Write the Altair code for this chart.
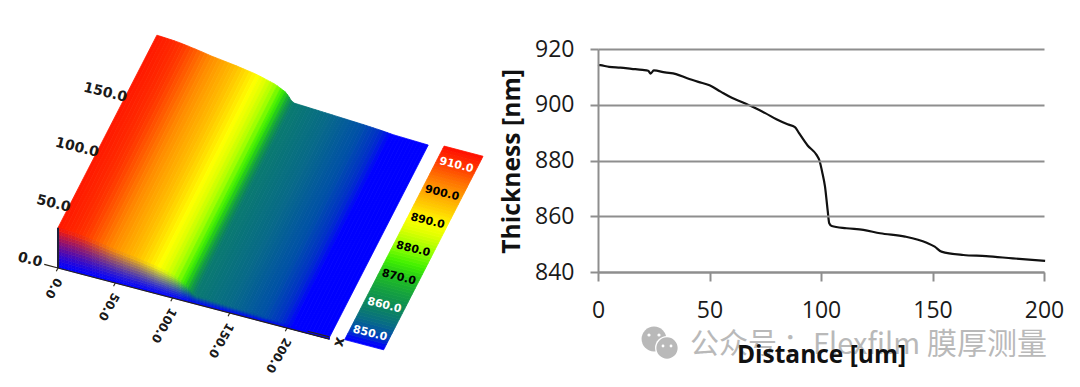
import altair as alt
import pandas as pd
import numpy as np

# ---------- Right chart: line profile ----------
DIST = [0, 1, 5, 10, 15, 20, 22.5, 23.6, 25, 30, 35, 40, 45, 50, 55, 60, 65, 70, 75, 80, 85, 88.3, 90, 94, 98, 99.3, 100.5,
        101.8, 103, 103.7, 104.8, 111.4, 119, 126.5, 137.7, 147.4, 151, 154, 163.8, 174, 186, 200.5]
THICK = [914.3, 914.2, 913.6, 913.3, 912.9, 912.5, 912.2, 911.2, 912.3, 911.6, 911.0, 909.5, 908.2, 907, 904.7, 902.5, 900.8, 899, 897, 894.8, 893, 892, 890,
         885.4, 882, 880, 876, 870.6, 862, 857.5, 856.5, 855.7, 855.1, 853.9, 852.7, 850.5, 849.1, 847.3, 846.1, 845.7, 844.9, 844]
X_TICKS = [0, 50, 100, 150, 200]
Y_TICKS = [840, 860, 880, 900, 920]

# ---------- Left chart: 3D surface ----------
SURF_U = [0, 3, 6, 9, 12, 15, 18, 21, 24, 27, 30, 33, 36, 39, 42, 45, 48, 51, 54, 57, 60, 63, 66, 69, 72, 75, 78, 81, 84, 87, 90,
          93, 96, 99, 102, 105, 108, 110, 112, 114, 115.5, 117, 118.5, 120, 123, 126, 129, 132, 135, 138, 141, 144, 147, 150, 153, 156, 159, 162,
          165, 168, 171, 174, 177, 180, 183, 186, 189, 192, 195, 198, 201, 204, 207, 210, 213, 216, 219, 222, 225, 228, 231, 234, 237]
SURF_T = [914, 913.7, 913.3, 913, 912.6, 912.2, 911.6, 911, 910, 909.3, 908.2, 907.4, 906.4, 905.4, 904.4, 903.2, 902.2, 901.4, 900.6, 899.8, 899, 898.2, 897.4, 896.6, 895.6, 894.6, 893.6, 892.6, 891.6, 890.4, 889,
          887.4, 885.6, 884, 882.4, 880, 877, 875, 873, 869, 865.5, 861, 858.5, 857, 856.7, 856.4, 856.1, 855.8, 855.5, 855.2, 854.9, 854.6, 854.3, 854, 853.7, 853.4, 853.1, 852.8,
          852.5, 852.2, 851.9, 851.6, 851.3, 851, 850.6, 850.2, 849.8, 849.4, 849, 848.5, 847.9, 847.3, 846.8, 846.6, 846.4, 846.2, 846, 845.8, 845.6, 845.4, 845.2, 845, 844.8]
CMAP_T = [845, 847, 849, 851, 854, 857, 860, 865, 870, 875, 880, 886, 890, 895, 900, 905, 910, 914, 916]
CMAP_C = ["#0000ff", "#0000ff", "#0030c8", "#0050a8", "#086a88", "#0a7a70", "#0c8858", "#14a040", "#20c020", "#40f000", "#90ff00",
          "#e0ff00", "#ffff00", "#ffcc00", "#ffa000", "#ff7000", "#ff3800", "#ff1800", "#ff0000"]
BAR_TICKS = [850, 860, 870, 880, 890, 900, 910]
BAR_LABEL_COLORS = ["white", "white", "black", "black", "black", "black", "white"]
BAR_STEPS = list(range(846, 915))
U_TICKS = [0, 50, 100, 150, 200]
V_TICKS = [0, 50, 100, 150]
V_MAX = 175
U_MAX = 237


def proj(u, v, t=None):
    """oblique view -> panel pixels"""
    z = 0 if t is None else 0.56 * (t - 842)
    return [50 + 1.145 * u + 0.565 * v, 260 + 0.30 * u - 1.10 * v - z]


def hex2(c):
    return np.array([int(c[i:i + 2], 16) for i in (1, 3, 5)], float)


RGB = np.array([hex2(c) for c in CMAP_C])


def tcolor(t):
    return np.array([np.interp(t, CMAP_T, RGB[:, k]) for k in range(3)])


def tohex(a):
    return "#%02x%02x%02x" % tuple(int(round(x)) for x in a)


def poly(corners, color):
    return {"type": "Feature", "properties": {"c": color},
            "geometry": {"type": "Polygon", "coordinates": [corners + [corners[0]]]}}


def fc(features):
    return alt.Data(values={"type": "FeatureCollection", "features": features},
                    format=alt.DataFormat(type="json", property="features"))


surface, wall = [], []
BLUE = np.array([0, 0, 255.0])
LEVELS = 12
for i in range(len(SURF_U) - 1):
    u0, u1, t0, t1 = SURF_U[i], SURF_U[i + 1], SURF_T[i], SURF_T[i + 1]
    tm = (t0 + t1) / 2
    surface.append(poly([proj(u0, 0, t0), proj(u1, 0, t1), proj(u1, V_MAX, t1), proj(u0, V_MAX, t0)], tohex(tcolor(tm))))
    top = tcolor(tm)
    for k in range(LEVELS):
        f0, f1 = k / LEVELS, (k + 1) / LEVELS
        a0, b0 = proj(u0, 0, 842 + (t0 - 842) * f0), proj(u1, 0, 842 + (t1 - 842) * f0)
        a1, b1 = proj(u0, 0, 842 + (t0 - 842) * f1), proj(u1, 0, 842 + (t1 - 842) * f1)
        fm = ((k + 0.5) / LEVELS) ** 1.3
        wall.append(poly([a0, b0, b1, a1], tohex(BLUE + (top - BLUE) * fm)))

bar = []
for t in BAR_STEPS:
    v0 = 13 + (t - 850) * 2.55
    v1 = v0 + 2.55
    bar.append(poly([proj(249, v0), proj(283, v0), proj(283, v1), proj(249, v1)], tohex(tcolor(t + 0.5))))

lines = [
    {"type": "Feature", "properties": {}, "geometry": {"type": "LineString", "coordinates": [proj(0, 0), proj(U_MAX, 0)]}},
    {"type": "Feature", "properties": {}, "geometry": {"type": "LineString", "coordinates": [proj(218, 0, 846), proj(U_MAX, 0, 846)]}},
    {"type": "Feature", "properties": {}, "geometry": {"type": "LineString", "coordinates": [proj(0, 0), proj(-12, 0)]}},
]
for u in U_TICKS:
    lines.append({"type": "Feature", "properties": {}, "geometry": {"type": "LineString", "coordinates": [proj(u, 0), proj(u, -3)]}})
edge = [{"type": "Feature", "properties": {}, "geometry": {"type": "LineString", "coordinates": [proj(0, 0), proj(0, 0, 914)]}}]

P = dict(type="identity", scale=1, translate=[0, 0])

s_surface = alt.Chart(fc(surface)).mark_geoshape(strokeWidth=0.8).encode(
    fill=alt.Fill("properties.c:N", scale=None), stroke=alt.Stroke("properties.c:N", scale=None))
s_wall = alt.Chart(fc(wall)).mark_geoshape(strokeWidth=0.6).encode(
    fill=alt.Fill("properties.c:N", scale=None), stroke=alt.Stroke("properties.c:N", scale=None))
s_bar = alt.Chart(fc(bar)).mark_geoshape(strokeWidth=0.8).encode(
    fill=alt.Fill("properties.c:N", scale=None), stroke=alt.Stroke("properties.c:N", scale=None))
s_lines = alt.Chart(fc(lines)).mark_geoshape(filled=False, stroke="#2a2418", strokeWidth=1.1)
s_edge = alt.Chart(fc(edge)).mark_geoshape(filled=False, stroke="#20203a", strokeWidth=2)

FONT3D = "DejaVu Sans"


def pts(rows):
    return pd.DataFrame(rows, columns=["lon", "lat", "t", "c"])


u_lab = pts([[proj(u, 0)[0] + 1, proj(u, 0)[1] + 11, f"{u:.1f}", "#1a1a1a"] for u in U_TICKS])
v_lab = pts([[proj(0, v)[0] - 16, proj(0, v)[1] - 5, f"{v:.1f}", "#1a1a1a"] for v in V_TICKS])
b_lab = pts([[proj(266, 13 + (t - 850) * 2.55)[0], proj(266, 13 + (t - 850) * 2.55)[1], f"{t:.1f}", c]
             for t, c in zip(BAR_TICKS, BAR_LABEL_COLORS)])
x_lab = pts([[proj(U_MAX, 0)[0] + 11, proj(U_MAX, 0)[1] + 3, "x", "#1a1a1a"]])


def txt(df, size, angle, align, baseline="middle"):
    return alt.Chart(df).mark_text(font=FONT3D, fontWeight="bold", fontSize=size, angle=angle, align=align,
                                   baseline=baseline).encode(
        longitude="lon:Q", latitude="lat:Q", text="t:N", color=alt.Color("c:N", scale=None))


left = alt.layer(
    s_surface, s_wall, s_bar, s_lines, s_edge,
    txt(u_lab, 12, 120, "left"),
    txt(v_lab, 14, 14, "right"),
    txt(b_lab, 11, 14, "center"),
    txt(x_lab, 15, 105, "center"),
).project(**P).properties(width=481, height=368)

# ---------- Right ----------
df = pd.DataFrame({"d": DIST, "t": THICK})
GRAY = "#8e8e8e"
FONT = "Open Sans"
RH = 264
line = alt.Chart(df).mark_line(color="#111111", strokeWidth=2.2, clip=False, interpolate="monotone").encode(
    x=alt.X("d:Q", scale=alt.Scale(domain=[0, 200], nice=False, zero=False),
            axis=alt.Axis(values=X_TICKS, format="d", title="Distance [um]", grid=False, domainColor=GRAY,
                          domainWidth=2, tickColor=GRAY, tickWidth=2, tickSize=9, labelFont=FONT, labelFontSize=23,
                          labelColor="#1a1a1a", labelPadding=18, titleFont=FONT, titleFontSize=24.5, titleFontWeight="bold",
                          titleColor="#111111", titlePadding=21, zindex=1, labelOverlap=False, labelFlush=False)),
    y=alt.Y("t:Q", scale=alt.Scale(domain=[840, 920], range=[RH, RH - 223], nice=False, zero=False),
            axis=alt.Axis(values=Y_TICKS, format="d", title="Thickness [nm]", grid=True, gridColor=GRAY, gridWidth=2,
                          domainColor=GRAY, domainWidth=2, tickColor=GRAY, tickWidth=2, tickSize=8, labelFont=FONT,
                          labelFontSize=23, labelColor="#1a1a1a", labelPadding=16, titleFont=FONT, titleFontSize=24.7,
                          titleFontWeight="bold", titleColor="#111111", titlePadding=10, zindex=1,
                          titleY=153)),
)

WM = "#b9b9b9"
one = pd.DataFrame({"a": [0]})


def wm_text(s, px, size=29):
    return alt.Chart(one).mark_text(font="Noto Sans CJK SC", fontSize=size, color=WM, align="left",
                                    baseline="middle").encode(x=alt.value(px - 598), y=alt.value(345 - 8),
                                                              text=alt.value(s))


def dot(px, py, r, col):
    return alt.Chart(one).mark_circle(color=col, opacity=1, size=3.1416 * r * r).encode(
        x=alt.value(px - 598), y=alt.value(py - 8))


wm = [
    dot(654, 339, 14, WM), dot(667, 348, 13.5, "white"), dot(667, 348, 12, WM),
    dot(649, 335, 1.8, "white"), dot(659, 335, 1.8, "white"),
    dot(663, 346, 1.6, "white"), dot(671, 346, 1.6, "white"),
    wm_text("公众号", 690), wm_text("：", 783), wm_text("Flexfilm", 813), wm_text("膜厚测量", 927, 30),
]
right = alt.layer(*wm, line).properties(width=446, height=RH)

chart = alt.hconcat(left, right, spacing=10).properties(padding=0, background="white").configure_view(stroke=None)
chart.save("out.html", embed_options={"renderer": "svg", "actions": False})
